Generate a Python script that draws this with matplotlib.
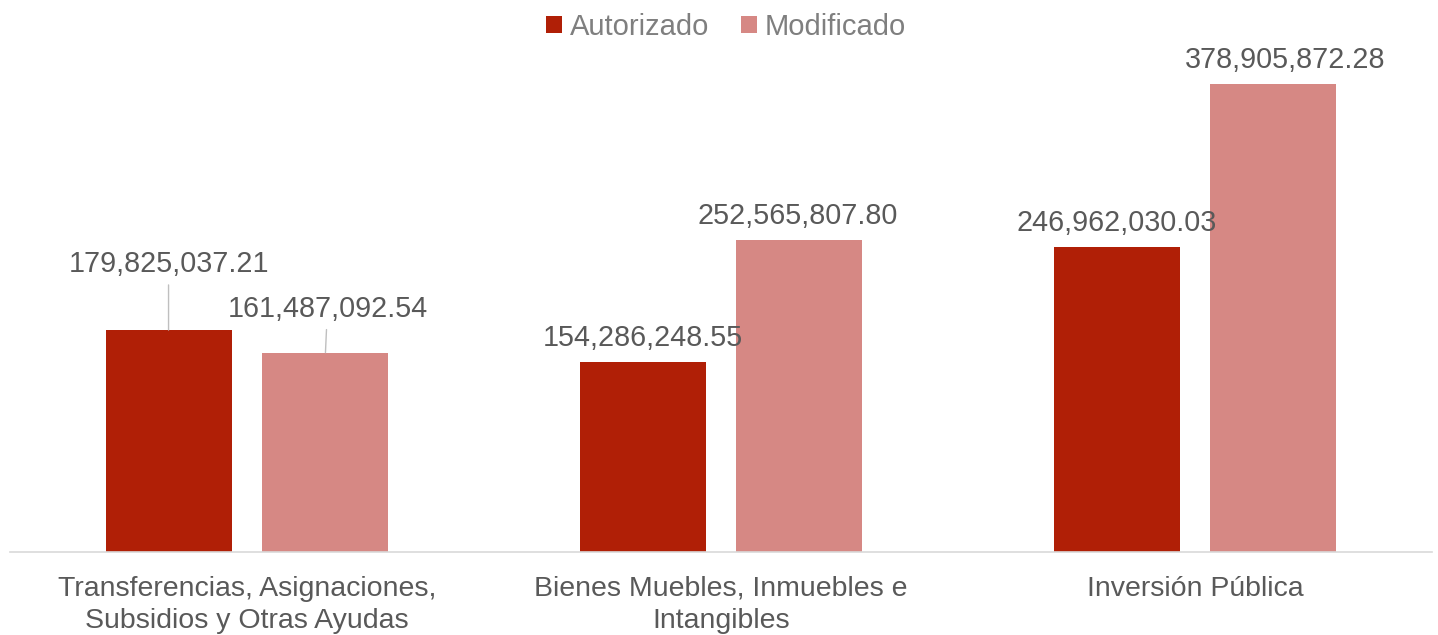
import matplotlib.pyplot as plt
import numpy as np

# ----------------------------------------------------------------------------
# Data
# ----------------------------------------------------------------------------
categories = [
    "Transferencias, Asignaciones,\nSubsidios y Otras Ayudas",
    "Bienes Muebles, Inmuebles e\nIntangibles",
    "Inversión Pública",
]
autorizado = [179825037.21, 154286248.55, 246962030.03]
modificado = [161487092.54, 252565807.80, 378905872.28]
series_names = ["Autorizado", "Modificado"]

# label offsets (pixels) relative to the top-centre of each bar
auto_offsets = [(0, 52), (0, 10), (0, 10)]
mod_offsets = [(2, 30), (-2, 10), (12, 10)]

RED = "#B01F06"
PINK = "#D68884"
TEXT = "#595959"

plt.rcParams["font.family"] = ["Liberation Sans", "DejaVu Sans"]

fig = plt.figure(figsize=(14.38, 6.35), dpi=100)
ax = fig.add_axes([10 / 1438, (635 - 552) / 635, 1422 / 1438, 492 / 635])

x = np.arange(len(categories))
w = 0.266
gap = 0.065
pos_a = x - (w + gap) / 2
pos_m = x + (w + gap) / 2

ax.bar(pos_a, autorizado, width=w, color=RED, label=series_names[0], zorder=2)
ax.bar(pos_m, modificado, width=w, color=PINK, label=series_names[1], zorder=2)

ax.set_xlim(-0.5, len(categories) - 0.5)
ax.set_ylim(0, 398.5e6)


def add_labels(positions, values, offsets):
    for px, v, (dx, dy) in zip(positions, values, offsets):
        lead = dy > 20
        ax.annotate(
            f"{v:,.2f}", xy=(px, v), xytext=(dx, dy), textcoords="offset pixels",
            ha="center", va="bottom", fontsize=20.7, color=TEXT,
            arrowprops=dict(arrowstyle="-", color="#bfbfbf", lw=1,
                            shrinkA=3, shrinkB=0) if lead else None,
        )


add_labels(pos_a, autorizado, auto_offsets)
add_labels(pos_m, modificado, mod_offsets)

ax.set_xticks(x)
ax.set_xticklabels(categories, fontsize=20.5, color=TEXT, linespacing=1.3)
ax.tick_params(axis="x", length=0, pad=17)
ax.set_yticks([])
for side in ["top", "right", "left"]:
    ax.spines[side].set_visible(False)
ax.spines["bottom"].set_color("#d9d9d9")
ax.spines["bottom"].set_linewidth(1.2)

leg = fig.legend(
    loc="center", bbox_to_anchor=(726 / 1438, 1 - 27 / 635), ncol=2,
    frameon=False, fontsize=21, handlelength=0.55, handleheight=0.55,
    handletextpad=0.25, columnspacing=1.1, labelcolor="#7f7f7f",
)

fig.savefig("out.png", dpi=100)
